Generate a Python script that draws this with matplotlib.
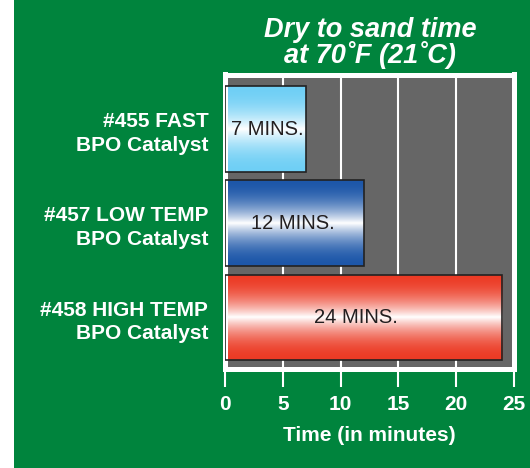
import numpy as np
import matplotlib
matplotlib.use("Agg")
import matplotlib.pyplot as plt
from matplotlib.patches import Rectangle
from matplotlib.colors import to_rgb

# data
categories = ["#455 FAST\nBPO Catalyst",
              "#457 LOW TEMP\nBPO Catalyst",
              "#458 HIGH TEMP\nBPO Catalyst"]
minutes = [7, 12, 24]
bar_labels = ["7 MINS.", "12 MINS.", "24 MINS."]
bar_colors = ["#6fcff5", "#1d57a9", "#ec3b25"]
x_ticks = [0, 5, 10, 15, 20, 25]

green = "#00843d"
gray = "#666666"
plt.rcParams["font.family"] = ["Liberation Sans", "DejaVu Sans"]

fig = plt.figure(figsize=(5.30, 4.68), dpi=100, facecolor=green)
# white strip on the left edge
fig.patches.append(Rectangle((0, 0), 14 / 530, 1, transform=fig.transFigure,
                             facecolor="white", edgecolor="none", zorder=0))

ax = fig.add_axes([225 / 530, 1 - 368.5 / 468, 289 / 530, 294 / 468])
ax.set_facecolor(gray)

y = np.arange(len(categories))
h = 0.91
bars = ax.barh(y, minutes, height=h, color="none", edgecolor="#222222",
               linewidth=1.2, zorder=3)

# vertical gradient: colour at the edges, white in the middle
t = np.linspace(-1, 1, 200)
w = (1 - np.abs(t)) ** 2
for bar, col in zip(bars, bar_colors):
    c = np.array(to_rgb(col))
    grad = c[None, :] * (1 - w[:, None]) + w[:, None]
    grad = np.repeat(grad[:, None, :], 2, axis=1)
    x0, y0 = bar.get_x(), bar.get_y()
    im = ax.imshow(grad, extent=(x0, x0 + bar.get_width(), y0, y0 + bar.get_height()),
                   aspect="auto", interpolation="bilinear", zorder=2)
    im.set_clip_path(bar)

for yi, v, lab in zip(y, minutes, bar_labels):
    ax.text(v * 0.45 + 0.5, yi, lab, ha="center", va="center",
            fontsize=14.5, color="#231f20", zorder=4)

ax.set_xlim(0, 25)
ax.set_ylim(2.54, -0.578)
ax.set_xticks(x_ticks)
ax.set_yticks(y)
ax.set_yticklabels(categories, fontsize=15, fontweight="bold", color="white",
                   linespacing=1.3)
for lab in ax.get_xticklabels():
    lab.set_fontweight("bold")
ax.tick_params(axis="x", length=13, width=1.5, color="white", pad=6,
               labelsize=15, labelcolor="white")
ax.tick_params(axis="y", length=0, pad=12)

ax.set_axisbelow(True)
ax.xaxis.grid(True, color="white", linewidth=1.5)
for s in ax.spines.values():
    s.set_color("white")
    s.set_linewidth(3.6)
    s.set_capstyle("projecting")

ax.set_xlabel("Time (in minutes)", fontsize=15, fontweight="bold",
              color="white", labelpad=9)

fig.text(370 / 530, 1 - 63 / 468, "Dry to sand time\nat 70˚F (21˚C)",
         ha="center", va="baseline", fontsize=19.5, fontweight="bold",
         fontstyle="italic", color="white", linespacing=0.92)

fig.savefig("out.png", dpi=100, facecolor=green)
